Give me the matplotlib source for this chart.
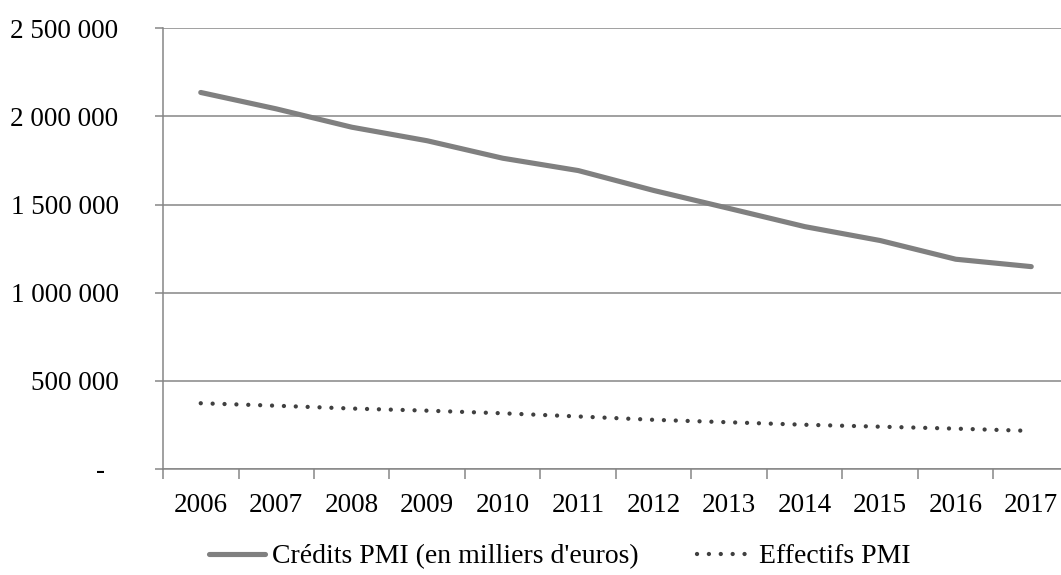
import matplotlib.pyplot as plt
import numpy as np
from matplotlib.ticker import FuncFormatter

# PMI data, 2006-2017
years = ['2006', '2007', '2008', '2009', '2010', '2011',
         '2012', '2013', '2014', '2015', '2016', '2017']
credits_pmi = [2136000, 2043000, 1939000, 1862000, 1763000, 1693000,
               1580000, 1478000, 1375000, 1296000, 1190000, 1148000]
effectifs_pmi = [373000, 359000, 343000, 331000, 316000, 298000,
                 279000, 265000, 251000, 240000, 229000, 216000]

plt.rcParams['font.family'] = ['Liberation Serif', 'DejaVu Serif']

fig = plt.figure(figsize=(10.61, 5.75), dpi=100)
ax = fig.add_axes([163 / 1061, 106 / 575, 906 / 1061, 440.7 / 575])

x = np.arange(len(years))
grey = '#868686'

ax.plot(x, credits_pmi, color='#808080', lw=3.7, solid_capstyle='round',
        solid_joinstyle='round', label="Crédits PMI (en milliers d'euros)", zorder=3)
ax.plot(x, effectifs_pmi, color='#404040', lw=3.1, linestyle=(0, (0.01, 2.75)),
        dash_capstyle='round', label='Effectifs PMI', zorder=3)

ax.set_xlim(-0.5, len(years) - 0.5)
ax.set_ylim(0, 2500000)
ax.set_yticks(np.arange(0, 2500001, 500000))


def fmt(v, pos):
    if v == 0:
        return '-  '
    return f'{int(v):,}'.replace(',', ' ')


ax.yaxis.set_major_formatter(FuncFormatter(fmt))
ax.grid(axis='y', color=grey, lw=1.1)
ax.set_axisbelow(True)

# category labels in the middle, tick marks on the boundaries
ax.set_xticks(x)
ax.set_xticklabels(years)
ax.set_xticks(np.arange(-0.5, len(years)), minor=True)
ax.tick_params(axis='x', which='major', length=0, pad=17, labelsize=19.5)
ax.tick_params(axis='x', which='minor', length=7, width=1.1, color=grey)
ax.tick_params(axis='y', length=6, width=1.1, color=grey, pad=26, labelsize=19.5)

for side in ['top', 'right']:
    ax.spines[side].set_visible(False)
for side in ['left', 'bottom']:
    ax.spines[side].set_color(grey)
    ax.spines[side].set_linewidth(1.1)

fig.legend(loc='center', bbox_to_anchor=(0.528, 0.032), ncol=2, frameon=False,
           fontsize=20, handlelength=2.0, handletextpad=0.25, columnspacing=2.1,
           borderpad=0, borderaxespad=0)

fig.savefig('out.png', dpi=100)
